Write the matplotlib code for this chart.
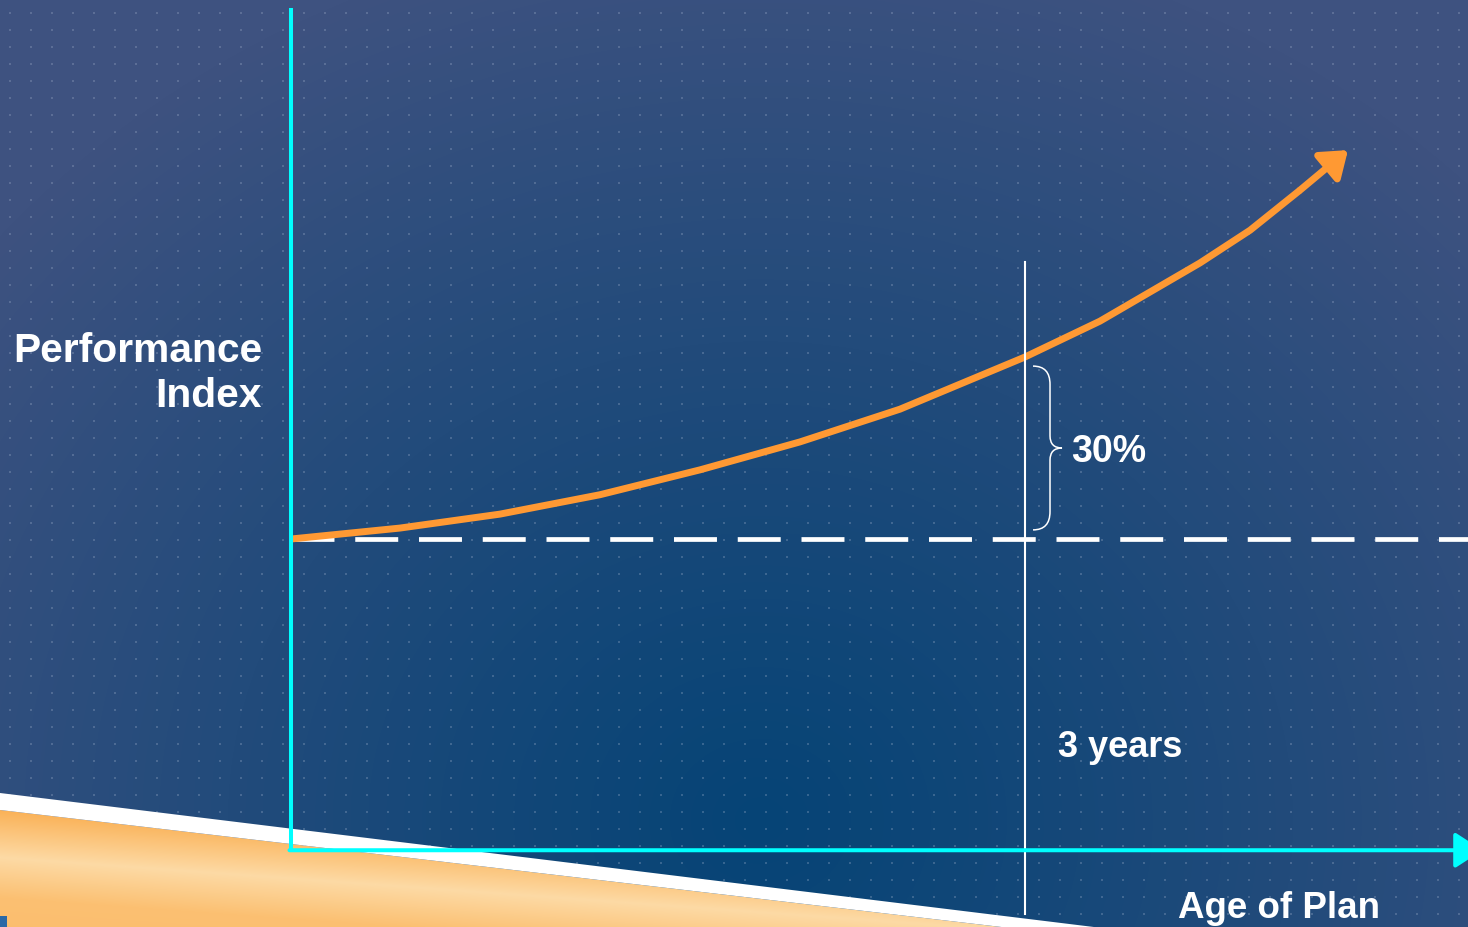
import numpy as np
import matplotlib
matplotlib.use("Agg")
import matplotlib.pyplot as plt
from matplotlib.path import Path
from matplotlib.patches import PathPatch, Polygon

# chart values (years since plan start, performance index)
years = [0.0, 0.445, 0.854, 1.263, 1.672, 2.080, 2.489, 3.0, 3.306, 3.715, 3.920, 4.124, 4.32]
index = [100.0, 101.8, 104.1, 107.3, 111.4, 116.0, 121.4, 130.0, 135.9, 145.5, 150.9, 157.5, 164.1]
baseline = 100
mark_year = 3
gain_pct = 30
axis_floor = 48.7   # where the x axis sits on the index scale
axis_top = 187.5

W, H = 1468, 927
fig = plt.figure(figsize=(W / 100, H / 100), dpi=100)

# ---- background: radial blue gradient with dot grid, orange wedge ----
bg = fig.add_axes([0, 0, 1, 1])
bg.set_xlim(0, W)
bg.set_ylim(H, 0)
bg.axis("off")

yy, xx = np.mgrid[0:H, 0:W]
r = np.sqrt(((xx - 760) / 1000.0) ** 2 + ((yy - 820) / 900.0) ** 2)
t = np.clip(r, 0, 1)[..., None] ** 1.1
inner = np.array([6, 68, 118]) / 255
outer = np.array([62, 82, 128]) / 255
img = inner * (1 - t) + outer * t
dots = (((xx - 9) % 21) < 2) & (((yy - 12) % 17) < 2)
img[dots] = img[dots] * 0.72 + np.array([170, 185, 210]) / 255 * 0.28
bg.imshow(img, extent=(0, W, H, 0), interpolation="nearest", zorder=0)

# orange wedge with a light band
s = yy - (857 + 0.072 * xx)
prof_s = [-60, -47, 0, 40, 120]
prof_c = np.array([[250, 176, 86], [250, 178, 88], [253, 218, 165], [251, 192, 114], [251, 186, 104]]) / 255
oimg = np.stack([np.interp(s, prof_s, prof_c[:, k]) for k in range(3)], axis=-1)
orange_poly = Polygon([(0, 810), (1010, H + 1), (0, H + 1)], closed=True, facecolor="none", edgecolor="none")
bg.add_patch(orange_poly)
oim = bg.imshow(oimg, extent=(0, W, H, 0), interpolation="nearest", zorder=1)
oim.set_clip_path(orange_poly)
bg.add_patch(Polygon([(0, 793), (1102, H + 1), (1010, H + 1), (0, 810)], closed=True,
                     facecolor="white", edgecolor="none", zorder=2))
bg.add_patch(Polygon([(0, 916), (7, 916), (7, H), (0, H)], closed=True,
                     facecolor="#2a68a6", edgecolor="none", zorder=3))

# ---- main chart on data scale ----
ax = fig.add_axes([0, 0, 1, 1])
ax.patch.set_alpha(0)
ax.set_xlim(-291 / 244.67, (W - 291) / 244.67)
ax.set_ylim(baseline - 388 / 6.067, baseline + 539 / 6.067)
ax.axis("off")

orange = "#ff9933"
cyan = "#00ffff"

# baseline dashed line
ax.plot([0, ax.get_xlim()[1]], [baseline, baseline], color="white", lw=3.4,
        dashes=(9.1, 4.4), zorder=3)

# performance curve with arrow
ax.plot(years[:-1], index[:-1], color=orange, lw=5, solid_capstyle="butt",
        solid_joinstyle="round", zorder=4)
ax.annotate("", xy=(years[-1], index[-1]), xytext=(years[-2], index[-2]),
            arrowprops=dict(arrowstyle="-|>,head_length=0.75,head_width=0.55",
                            mutation_scale=20, color=orange, lw=5,
                            shrinkA=0, shrinkB=0), zorder=4)

# 3-year marker
ax.plot([mark_year, mark_year], [axis_floor - 10.5, 145.7], color="white", lw=1.5, zorder=5)

# brace for the gain
px = 1 / 244.67
bx0 = mark_year + 8 * px
bxm = mark_year + 25 * px
bxt = mark_year + 37 * px
ytop = baseline + gain_pct - 1.5
ybot = baseline + 1.5
ymid = baseline + gain_pct / 2
verts = [(bx0, ytop), (bxm, ytop), (bxm, ytop - 3),
         (bxm, ymid + 2), (bxm, ymid), (bxt, ymid),
         (bxm, ymid), (bxm, ymid - 2),
         (bxm, ybot + 3), (bxm, ybot), (bx0, ybot)]
codes = [Path.MOVETO, Path.CURVE3, Path.CURVE3,
         Path.LINETO, Path.CURVE3, Path.CURVE3,
         Path.CURVE3, Path.CURVE3,
         Path.LINETO, Path.CURVE3, Path.CURVE3]
ax.add_patch(PathPatch(Path(verts, codes), facecolor="none", edgecolor="white", lw=1.1, zorder=5))

# axes lines
ax.plot([0, 0], [axis_floor, axis_top], color=cyan, lw=2.9, solid_capstyle="butt", zorder=6)
ax.annotate("", xy=(4.87, axis_floor), xytext=(-1.5 * px, axis_floor),
            arrowprops=dict(arrowstyle="-|>,head_length=0.85,head_width=0.55",
                            mutation_scale=20, color=cyan, lw=2.9,
                            shrinkA=0, shrinkB=0),
            annotation_clip=False, zorder=6)

# labels
bold = dict(color="white", fontweight="bold", family=["Liberation Sans", "DejaVu Sans"])
ax.text(-29 * px, baseline + 177 / 6.067, "Performance", ha="right", va="baseline", fontsize=29.3, **bold)
ax.text(-29 * px, baseline + 132 / 6.067, "Index", ha="right", va="baseline", fontsize=29.3, **bold)
ax.text(bxt + 9 * px, baseline + 77 / 6.067, f"{gain_pct}%", ha="left", va="baseline", fontsize=27, **bold)
ax.text(mark_year + 33 * px, baseline - 218 / 6.067, f"{mark_year} years", ha="left", va="baseline",
        fontsize=26, **bold)
ax.text(mark_year + 153 * px, baseline - 379 / 6.067, "Age of Plan", ha="left", va="baseline",
        fontsize=26.5, **bold)

fig.savefig("out.png", dpi=100)
